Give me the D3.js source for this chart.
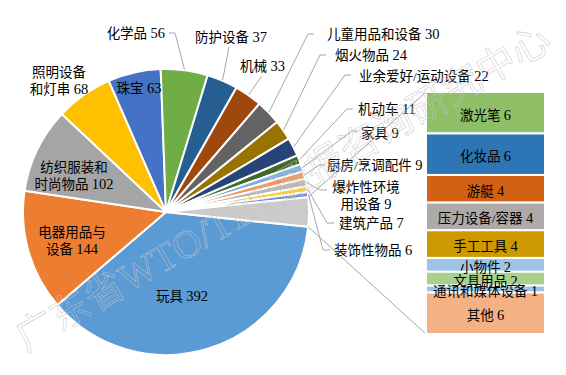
<!DOCTYPE html>
<html>
<head>
<meta charset="utf-8">
<script src="https://cdn.jsdelivr.net/npm/d3@7/dist/d3.min.js"></script>
<style>
  html, body { margin: 0; padding: 0; background: #fff; }
  svg { display: block; }
  text { font-family: 'Liberation Serif', 'Noto Sans CJK SC', serif; }
</style>
</head>
<body>
<svg id="chart" width="566" height="375"></svg>
<script>
// ---------- data ----------
const pieCategories = ["玩具", "电器用品与设备", "纺织服装和时尚物品", "照明设备和灯串", "珠宝", "化学品",
  "防护设备", "机械", "儿童用品和设备", "烟火物品", "业余爱好/运动设备", "机动车", "家具",
  "厨房/烹调配件", "爆炸性环境用设备", "建筑产品", "装饰性物品"];
const pieValues = [392, 144, 102, 68, 63, 56, 37, 33, 30, 24, 22, 11, 9, 9, 9, 7, 6];

const barCategories = ["激光笔", "化妆品", "游艇", "压力设备/容器", "手工工具", "小物件", "文具用品", "通讯和媒体设备", "其他"];
const barValues = [6, 6, 4, 4, 4, 2, 2, 1, 6];

// ---------- styles / layout ----------
const pieColors = ["#5B9BD5", "#ED7D31", "#A5A5A5", "#FFC000", "#4472C4", "#70AD47",
  "#255E91", "#9E480E", "#636363", "#997300", "#264478", "#43682B",
  "#7CAFDD", "#F1975A", "#B7B7B7", "#FFCD33", "#698ED0", "#CBCBCB"];
const barColors = ["#8FC068", "#2E75B6", "#D26115", "#AEAAAA", "#CC9900", "#9DC3E6", "#A9D18E", "#9DC3E6", "#F4B183"];

const cx = 166, cy = 212, R = 143;

const labelLayout = {
  "玩具": {x: 182, y: 296, anchor: "middle", lines: ["玩具"]},
  "电器用品与设备": {x: 72, y: 232, anchor: "middle", lines: ["电器用品与", "设备"]},
  "纺织服装和时尚物品": {x: 74, y: 167, anchor: "middle", lines: ["纺织服装和", "时尚物品"]},
  "照明设备和灯串": {x: 59, y: 72, anchor: "middle", lines: ["照明设备", "和灯串"]},
  "珠宝": {x: 139, y: 88, anchor: "middle", lines: ["珠宝"]},
  "化学品": {x: 165, y: 33, anchor: "end", lines: ["化学品"], leader: [[169, 33], [175, 33]]},
  "防护设备": {x: 195, y: 37, anchor: "start", lines: ["防护设备"], leader: [[229, 47]]},
  "机械": {x: 240, y: 66, anchor: "start", lines: ["机械"], leader: [[262, 76]]},
  "儿童用品和设备": {x: 327, y: 34, anchor: "start", lines: ["儿童用品和设备"], leader: [[314, 34], [308, 34]]},
  "烟火物品": {x: 335, y: 55, anchor: "start", lines: ["烟火物品"], leader: [[326, 55], [320, 55]]},
  "业余爱好/运动设备": {x: 359, y: 76, anchor: "start", lines: ["业余爱好/运动设备"], leader: [[351, 75], [345, 75]]},
  "机动车": {x: 358, y: 109, anchor: "start", lines: ["机动车"], leader: [[353, 109], [347, 109]]},
  "家具": {x: 361, y: 133, anchor: "start", lines: ["家具"], leader: [[358, 131], [352, 131]]},
  "厨房/烹调配件": {x: 327, y: 165, anchor: "start", lines: ["厨房/烹调配件"], leader: [[325, 165], [319, 165]]},
  "爆炸性环境用设备": {x: 366, y: 187, anchor: "middle", lines: ["爆炸性环境", "用设备"], leader: [[327, 190], [320, 190]]},
  "建筑产品": {x: 339, y: 223, anchor: "start", lines: ["建筑产品"], leader: [[334, 223], [327, 223]]},
  "装饰性物品": {x: 334, y: 250, anchor: "start", lines: ["装饰性物品"], leader: [[330, 250], [323, 250]]}
};

const barLeft = 426, barRight = 545, barTop = 92, barBottom = 334;
const fontSize = 13.5;
const numSize = 14.5;
const lineH = 16.5;

// ---------- drawing ----------
const svg = d3.select("#chart");
svg.append("rect").attr("width", 566).attr("height", 375).attr("fill", "#fff");

const otherTotal = d3.sum(barValues);
const pieData = pieCategories.map((c, i) => ({cat: c, value: pieValues[i], idx: i}))
  .concat([{cat: "__other__", value: otherTotal, idx: pieCategories.length}]);
const total = d3.sum(pieData, d => d.value);
const otherSpan = 2 * Math.PI * otherTotal / total;
const a0 = Math.PI / 2 + otherSpan / 2;

const pie = d3.pie().value(d => d.value).sort(null).startAngle(a0).endAngle(a0 + 2 * Math.PI);
const arcs = pie(pieData);
const arc = d3.arc().innerRadius(0).outerRadius(R);

const g = svg.append("g").attr("transform", `translate(${cx},${cy})`);
g.selectAll("path.slice").data(arcs).enter().append("path")
  .attr("class", "slice")
  .attr("d", arc)
  .attr("fill", d => pieColors[d.data.idx])
  .attr("stroke", "#fff")
  .attr("stroke-width", 2)
  .attr("stroke-linejoin", "round");

function arcPoint(a, r) {
  return [cx + r * Math.sin(a), cy - r * Math.cos(a)];
}

// series lines from "other" slice to bar
const otherArc = arcs[arcs.length - 1];
const yBar = d3.scaleLinear().domain([0, otherTotal]).range([barTop, barBottom]);
const pTop = arcPoint(otherArc.startAngle, R);
const pBot = arcPoint(otherArc.endAngle, R);
svg.append("line").attr("x1", pTop[0]).attr("y1", pTop[1]).attr("x2", barLeft).attr("y2", yBar(0))
  .attr("stroke", "#A6A6A6").attr("stroke-width", 1);
svg.append("line").attr("x1", pBot[0]).attr("y1", pBot[1]).attr("x2", barLeft).attr("y2", yBar(otherTotal))
  .attr("stroke", "#A6A6A6").attr("stroke-width", 1);

// leader lines
const line = d3.line();
arcs.forEach(a => {
  const lay = labelLayout[a.data.cat];
  if (!lay || !lay.leader) return;
  const mid = (a.startAngle + a.endAngle) / 2;
  const pts = lay.leader.concat([arcPoint(mid, R + 0.5)]);
  svg.append("path").attr("d", line(pts)).attr("fill", "none")
    .attr("stroke", "#A6A6A6").attr("stroke-width", 1);
});

// pie labels
arcs.forEach(a => {
  const lay = labelLayout[a.data.cat];
  if (!lay) return;
  const t = svg.append("text")
    .attr("x", lay.x).attr("y", lay.y)
    .attr("text-anchor", lay.anchor)
    .attr("font-size", fontSize)
    .attr("fill", "#000")
    .attr("dominant-baseline", "central");
  lay.lines.forEach((ln, i) => {
    const last = i === lay.lines.length - 1;
    const ts = t.append("tspan")
      .attr("x", lay.x)
      .attr("dy", i === 0 ? 0 : lineH)
      .text(last ? ln + " " : ln);
    if (last) t.append("tspan").attr("font-size", numSize).text(a.data.value);
  });
});

// stacked bar
let cum = 0;
const barSegs = barValues.map((v, i) => {
  const s = {cat: barCategories[i], value: v, y0: cum, y1: cum + v, idx: i};
  cum += v;
  return s;
});
svg.selectAll("rect.seg").data(barSegs).enter().append("rect")
  .attr("class", "seg")
  .attr("x", barLeft).attr("width", barRight - barLeft)
  .attr("y", d => yBar(d.y0)).attr("height", d => yBar(d.y1) - yBar(d.y0))
  .attr("fill", d => barColors[d.idx])
  .attr("stroke", "#fff").attr("stroke-width", 2);

const bt = svg.selectAll("text.seg").data(barSegs).enter().append("text")
  .attr("class", "seg")
  .attr("x", (barLeft + barRight) / 2)
  .attr("y", d => (yBar(d.y0) + yBar(d.y1)) / 2 + 2)
  .attr("text-anchor", "middle")
  .attr("dominant-baseline", "central")
  .attr("font-size", fontSize)
  .attr("fill", "#000");
bt.append("tspan").text(d => d.cat + " ");
bt.append("tspan").attr("font-size", numSize).text(d => d.value);

// watermark
svg.append("text")
  .attr("transform", "translate(283,188) rotate(-30)")
  .attr("text-anchor", "middle")
  .attr("dominant-baseline", "central")
  .attr("font-size", 39)
  .attr("textLength", 610)
  .attr("lengthAdjust", "spacing")
  .attr("fill", "none")
  .attr("stroke", "#C4C4C4")
  .attr("stroke-opacity", 0.85)
  .attr("stroke-width", 0.6)
  .text("广东省WTO/TBT通报咨询研究中心");
</script>
</body>
</html>
